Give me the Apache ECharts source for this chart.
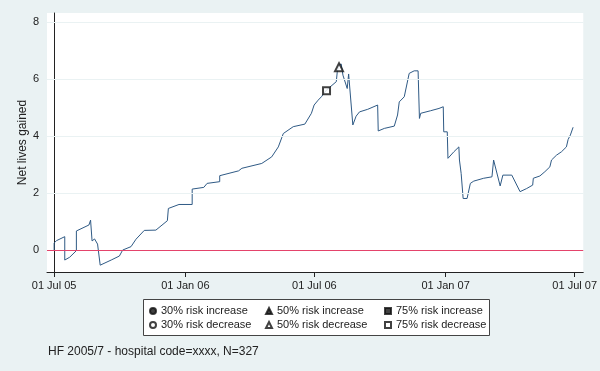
<!DOCTYPE html>
<html>
<head>
<meta charset="utf-8">
<script src="https://cdn.jsdelivr.net/npm/echarts@6/dist/echarts.min.js"></script>
<style>
  html, body { margin: 0; padding: 0; background: #eaf2f3; }
  #chart { width: 600px; height: 371px; }
</style>
</head>
<body>
<div id="chart"></div>
<script>
// x = days since 01 Jul 05
const tickDays = [0, 184, 365, 549, 730]
const tickLabels = ['01 Jul 05', '01 Jan 06', '01 Jul 06', '01 Jan 07', '01 Jul 07']
const yTicks = [0, 2, 4, 6, 8]

const days = [0, 0, 3.3, 14.9, 14.9, 21.9, 31.2, 31.2, 48.8, 51.1, 53.2, 56.7, 59.5, 60.9, 64.6,
  80, 91.5, 96.1, 107.8, 114.8, 126.4, 142.7, 158.8, 160.2, 175.1, 193.6, 193.6, 209.9, 214.5,
  232.2, 232.2, 258.7, 263.3, 291.2, 305.1, 314.4, 321.4, 335.3, 351.6, 360.8, 364.6, 370.2,
  374.8, 381.7, 395.7, 397, 399, 402.6, 405, 405, 407.4, 411, 413, 415.7, 418.9, 423.5, 428.3,
  439.8, 453.7, 454.5, 463.1, 477, 481.6, 484, 491, 497.9, 504.9, 510.4, 512.3, 514.1, 528,
  539.7, 545.7, 546.4, 551.3, 552.3, 560.6, 567.6, 568.4, 570.8, 573.6, 579.1, 583.7, 588.5,
  602.4, 614, 616.3, 625.5, 629.3, 641.8, 653.4, 662.7, 671.1, 672, 681.2, 688.2, 695.2,
  697.5, 704.5, 711.5, 718.4, 720.8, 724, 727.8]
const lives = [0, 0.25, 0.33, 0.47, -0.35, -0.25, -0.02, 0.67, 0.88, 1.05, 0.32, 0.39, 0.46, 0.21, -0.53,
  -0.35, -0.21, 0, 0.12, 0.38, 0.69, 0.7, 1.03, 1.46, 1.6, 1.6, 2.14, 2.2, 2.34,
  2.4, 2.61, 2.78, 2.87, 3.04, 3.27, 3.62, 4.09, 4.33, 4.42, 4.8, 5.09, 5.26,
  5.38, 5.61, 5.91, 6.24, 6.49, 6.53, 6.49, 6.14, 6.2, 5.67, 6.18, 6.14, 4.39, 4.7, 4.85,
  4.94, 5.09, 4.18, 4.27, 4.35, 4.74, 5.2, 5.38, 6.2, 6.29, 6.29, 4.62, 4.8, 4.89,
  4.97, 5.03, 4.15, 4.15, 3.22, 3.45, 3.62, 3.16, 2.69, 1.81, 1.81, 2.34, 2.42,
  2.52, 2.57, 3.16, 2.25, 2.63, 2.63, 2.05, 2.16, 2.28, 2.52, 2.6, 2.75, 2.92,
  3.16, 3.33, 3.45, 3.62, 3.88, 4.04, 4.31]

// signal points
const inc30 = []
const inc50 = []
const inc75 = []
const dec30 = []
const dec50 = [[399.5, 6.42]]
const dec75 = [[382, 5.59]]

const lineData = days.map((d, i) => [d, lives[i]])

const chart = echarts.init(document.getElementById('chart'))

const signal = (name, symbol, size, data) => ({
  name: name,
  type: 'scatter',
  symbol: symbol,
  symbolSize: size,
  itemStyle: { color: '#111', borderColor: '#111', borderWidth: 0.8 },
  data: data,
  z: 5
})

const legendBase = {
  orient: 'vertical',
  top: 305,
  padding: 0,
  itemGap: 2,
  itemWidth: 6,
  itemHeight: 6,
  selectedMode: false,
  textStyle: { fontFamily: 'Liberation Sans, Arial', fontSize: 11, color: '#222', lineHeight: 12 }
}

chart.setOption({
  backgroundColor: '#eaf2f3',
  animation: false,
  textStyle: { fontFamily: 'Liberation Sans, Arial' },
  title: {
    text: 'HF 2005/7 - hospital code=xxxx, N=327',
    left: 43,
    top: 341,
    textStyle: { fontSize: 12, fontWeight: 'normal', color: '#222' }
  },
  grid: {
    left: 47,
    right: 13,
    top: 13,
    bottom: 99,
    show: true,
    backgroundColor: '#fff',
    borderWidth: 0
  },
  graphic: [{
    type: 'rect',
    shape: { x: 143.5, y: 299.5, width: 346, height: 36 },
    style: { fill: '#fff', stroke: '#444', lineWidth: 1 },
    z: -1
  }],
  legend: [
    Object.assign({ left: 149, data: ['30% risk increase', '30% risk decrease'] }, legendBase),
    Object.assign({ left: 265, data: ['50% risk increase', '50% risk decrease'] }, legendBase),
    Object.assign({ left: 384, data: ['75% risk increase', '75% risk decrease'] }, legendBase)
  ],
  xAxis: {
    type: 'value',
    min: -10,
    max: 742,
    axisLine: { onZero: false, lineStyle: { color: '#222', width: 1 } },
    axisTick: { customValues: tickDays, length: 5, lineStyle: { color: '#222' } },
    axisLabel: {
      customValues: tickDays,
      margin: 8,
      fontSize: 11,
      color: '#222',
      formatter: v => tickLabels[tickDays.indexOf(v)]
    },
    splitLine: { show: false }
  },
  yAxis: {
    type: 'value',
    min: -0.77,
    max: 8.32,
    name: 'Net lives gained',
    nameLocation: 'middle',
    nameGap: 18,
    nameMoveOverlap: false,
    nameTextStyle: { fontSize: 12, color: '#222' },
    axisLine: { show: true, lineStyle: { color: '#222', width: 1 } },
    axisTick: { customValues: yTicks, length: 5, lineStyle: { color: '#222' } },
    axisLabel: { customValues: yTicks, margin: 8, fontSize: 11, color: '#222' },
    splitLine: { show: false }
  },
  series: [
    {
      name: 'net',
      type: 'line',
      data: lineData,
      showSymbol: false,
      lineStyle: { color: '#2f5a85', width: 1 },
      z: 3,
      markLine: {
        silent: true,
        symbol: 'none',
        label: { show: false },
        data: yTicks.slice(1).map(v => ({ yAxis: v, lineStyle: { color: '#eaf2f3', width: 1, type: 'solid' } }))
          .concat([{ yAxis: 0, lineStyle: { color: '#e4436b', width: 1.2, type: 'solid' } }])
      }
    },
    signal('30% risk increase', 'circle', 6, inc30),
    signal('50% risk increase', 'triangle', 7, inc50),
    signal('75% risk increase', 'rect', 6, inc75),
    signal('30% risk decrease', 'emptyCircle', 6, dec30),
    signal('50% risk decrease', 'emptyTriangle', 8, dec50),
    signal('75% risk decrease', 'emptyRect', 7, dec75)
  ]
})
</script>
</body>
</html>
